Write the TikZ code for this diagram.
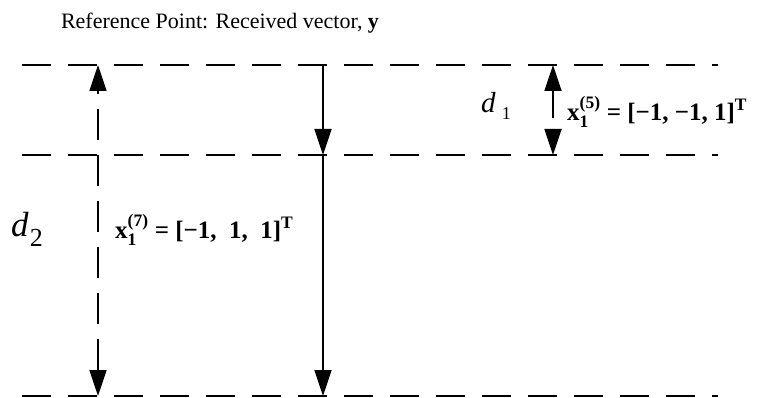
\documentclass[tikz,border=0pt]{standalone}
\usepackage{amsmath}
\usepackage{fontspec}
\setmainfont{Liberation Serif}
\usetikzlibrary{arrows.meta}

\begin{document}
\begin{tikzpicture}[x=1pt, y=-1pt,
    level/.style={line width=1.5pt, dash pattern=on 29pt off 17pt},
    dist/.style={line width=1.8pt, -{Triangle[length=26pt, width=17pt]}},
    dist both/.style={line width=1.8pt, {Triangle[length=26pt, width=17pt]}-{Triangle[length=26pt, width=17pt]}, dash pattern=on 31pt off 15pt},
    vec/.style={font=\fontsize{25}{28}\selectfont\bfseries, anchor=west, inner sep=0pt},
    dlabel/.style={anchor=base west, inner sep=0pt}
  ]
    \useasboundingbox (0,0) rectangle (761,398);

    % reference levels
    \coordinate (top l) at (22,65);  \coordinate (top r) at (718,65);
    \coordinate (mid l) at (22,155); \coordinate (mid r) at (718,155);
    \coordinate (bot l) at (22,396); \coordinate (bot r) at (718,396);
    \draw[level] (top l) -- (top r);
    \draw[level] (mid l) -- (mid r);
    \draw[level] (bot l) -- (bot r);

    \node[font=\fontsize{22}{26}\selectfont] (ref) at (220,23) {Reference Point: Received vector, \textbf{y}};

    % distances
    \coordinate (d2 top) at (98,65);  \coordinate (d2 bot) at (98,396);
    \coordinate (c top) at (323,65);  \coordinate (c mid) at (323,155);  \coordinate (c bot) at (323,396);
    \coordinate (d1 top) at (553,65); \coordinate (d1 tail) at (553,118);
    \coordinate (d1 head) at (553,129); \coordinate (d1 bot) at (553,155);

    \draw[dist both] (d2 bot) -- (d2 top);
    \draw[dist] (c top) -- (c mid);
    \draw[dist] (c mid) -- (c bot);
    \draw[dist] (d1 tail) -- (d1 top);
    \draw[dist] (d1 head) -- (d1 bot);

    \node[dlabel] (d1) at (481,113) {\fontsize{29}{29}\selectfont\textit{d}\hspace{6pt}\raisebox{-7pt}{\fontsize{18}{18}\selectfont 1}};
    \node[dlabel] (d2) at (11,237) {\fontsize{35}{35}\selectfont\textit{d}\hspace{1pt}\raisebox{-10pt}{\fontsize{26}{26}\selectfont 2}};
    \node[vec] (x5) at (567,112) {$\textbf{x}_{\textbf{1}}^{\textbf{(5)}}\textbf{ = [−1, −1, 1]}^{\textbf{T}}$};
    \node[vec] (x7) at (115,230) {$\textbf{x}_{\textbf{1}}^{\textbf{(7)}}\textbf{ = [−1,\ \ 1,\ \ 1]}^{\textbf{T}}$};
  \end{tikzpicture}
\end{document}
